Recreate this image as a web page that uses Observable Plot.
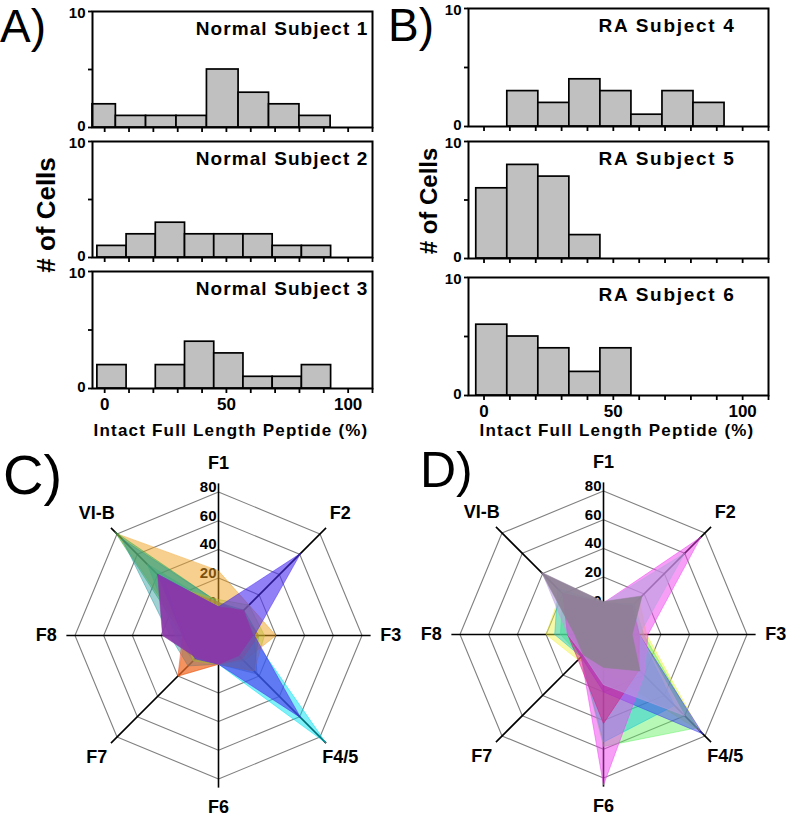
<!DOCTYPE html>
<html><head><meta charset="utf-8">
<script src="https://cdn.jsdelivr.net/npm/d3@7"></script>
<script src="https://cdn.jsdelivr.net/npm/@observablehq/plot@0.6"></script>
<style>
body{margin:0;background:#fff;}
#root{position:relative;width:786px;height:819px;overflow:hidden;background:#fff;font-family:"Liberation Sans",Arial,sans-serif;}
#root svg{position:absolute;}
</style></head><body><div id="root"></div>
<script>
// ---------- Histogram data (A, B) ----------
const subjectTitles = ["Normal Subject 1","Normal Subject 2","Normal Subject 3","RA Subject 4","RA Subject 5","RA Subject 6"];
const binEdgesN1 = [-5, 4.6, 17, 29.5, 42, 55, 67.5, 80, 92.8];
const binEdges = [-3, 9, 21, 33, 45, 57, 69, 81, 93];
const countsN1 = [2, 1, 1, 1, 5, 3, 2, 1];
const countsN2 = [1, 2, 3, 2, 2, 2, 1, 1];
const countsN3 = [2, 0, 2, 4, 3, 1, 1, 2];
const countsRA4 = [0, 3, 2, 4, 3, 1, 3, 2];
const countsRA5 = [6, 8, 7, 2, 0, 0, 0, 0];
const countsRA6 = [6, 5, 4, 2, 4, 0, 0, 0];
const yTicks = [0, 5, 10];
const yTickLow = 0, yTickHigh = 10;
const xTicks = [0, 10, 20, 30, 40, 50, 60, 70, 80, 90, 100, 110];
const xTickLabels = [0, 50, 100];
const yTitle = "# of Cells";
const xTitle = "Intact Full Length Peptide (%)";
const panelLetters = ["A)", "B)", "C)", "D)"];

// ---------- Radar data (C, D) ----------
const radarAxes = ["F1", "F2", "F3", "F4/5", "F6", "F7", "F8", "VI-B"];
const ringValues = [0, 20, 40, 60, 80];
// Panel C (normal subjects), values per axis in radarAxes order
const cCyan   = [0, 3, 3, 86, 0, 5, 10, 50];
const cOrange = [25, 10, 20, 5, 0, 20, 3, 80];
const cGreen  = [3, 5, 8, 15, 0, 3, 5, 82];
const cTeal   = [3, 3, 5, 18, 0, 10, 14, 75];
const cRed    = [3, 3, 8, 3, 0, 20, 5, 30];
const cOlive  = [5, 10, 12, 15, 0, 5, 3, 30];
const cBlue   = [0, 61, 5, 61, 0, 3, 5, 40];
const cPurple = [0, 5, 4, 0, 0, 2, 19, 40];
// Panel D (RA subjects)
const dYellow   = [2, 15, 10, 75, 5, 5, 20, 22];
const dGreen    = [2, 10, 8, 72, 58, 2, 10, 20];
const dCyan     = [2, 10, 5, 50, 55, 2, 14, 25];
const dBlue     = [2, 8, 5, 78, 20, 2, 5, 20];
const dMagenta  = [2, 76, 11, 20, 85, 2, 5, 20];
const dCrimson  = [2, 8, 5, 15, 42, 5, 5, 20];
const dLavender = [2, 60, 5, 60, 15, 0, 5, 40];
const dMauve    = [3, 18, 0, 16, 3, 0, 0, 41];

const FONT = "Liberation Sans, Arial, sans-serif";
const root = document.getElementById("root");

// ---------- overlay text ----------
const ov = d3.select(root).append("svg").attr("width", 786).attr("height", 819)
  .style("left", "0px").style("top", "0px").attr("font-family", FONT);
const letterPos = [[0, 42, 46], [388, 41, 46], [3, 494, 56], [420, 487, 50]];
panelLetters.forEach((t, i) => ov.append("text").attr("x", letterPos[i][0]).attr("y", letterPos[i][1])
  .attr("font-size", letterPos[i][2]).text(t));
[[55, 215, 26], [437, 201, 24]].forEach(([x, y, s]) => ov.append("text")
  .attr("transform", `translate(${x},${y}) rotate(-90)`).attr("text-anchor", "middle")
  .attr("font-size", s).attr("font-weight", "bold").text(yTitle));
[[231, 436], [617, 436]].forEach(([x, y]) => ov.append("text").attr("x", x).attr("y", y)
  .attr("text-anchor", "middle").attr("font-size", 17).attr("font-weight", "bold")
  .attr("letter-spacing", "1.2px").text(xTitle));

// ---------- histograms ----------
function hist(counts, edges, title, o) {
  const data = counts.map((c, i) => ({x1: edges[i], x2: edges[i + 1], n: c})).filter(d => d.n > 0);
  const mt = 14, mb = 30;
  const svg = Plot.plot({
    width: o.width, height: o.frameH + mt + mb,
    marginLeft: o.ml, marginRight: o.mr, marginTop: mt, marginBottom: mb,
    x: {domain: o.xDomain}, y: {domain: [0, 10]},
    style: {background: "transparent", overflow: "visible", fontFamily: FONT, fontWeight: "bold", color: "#000"},
    marks: [
      Plot.rect(data, {x1: "x1", x2: "x2", y1: 0, y2: "n", fill: "#c0c0c0", stroke: "#000", strokeWidth: 1.7}),
      Plot.frame({stroke: "#000", strokeWidth: 2}),
      Plot.axisY({ticks: yTicks, tickSize: 4, label: null, strokeWidth: 1.8, tickFormat: () => ""}),
      Plot.text([yTickLow], {y: d => d, text: d => String(d), frameAnchor: "left", textAnchor: "end",
        dx: -7, dy: -1.5, fontSize: 15, fontWeight: "bold"}),
      Plot.text([yTickHigh], {y: d => d, text: d => String(d), frameAnchor: "left", textAnchor: "end",
        dx: -7, dy: 1.5, fontSize: 15, fontWeight: "bold"}),
      Plot.axisX({ticks: xTicks, tickSize: 5, tickPadding: 4, label: null, strokeWidth: 1.8,
        tickFormat: d => (o.labels && xTickLabels.includes(d)) ? String(d) : "", fontSize: 17, fontWeight: "bold"}),
      Plot.text([title], {frameAnchor: "top-right", text: d => d, textAnchor: "end", lineAnchor: "bottom",
        dx: o.titleDx, dy: 23.5, fontSize: 19, fontWeight: "bold"})
    ]
  });
  d3.select(svg).selectAll("text").filter(function () { return this.textContent === title; })
    .attr("letter-spacing", o.ls + "px");
  svg.style.left = o.left + "px";
  svg.style.top = (o.frameTop - mt) + "px";
  root.appendChild(svg);
}
const A = {left: 0, width: 390, ml: 92, mr: 18, xDomain: [-5, 110], titleDx: -4, ls: 1.1};
const B = {left: 390, width: 396, ml: 78, mr: 18, xDomain: [-6, 110], titleDx: -33, ls: 1.7};
hist(countsN1, binEdgesN1, subjectTitles[0], {...A, frameTop: 11, frameH: 116, labels: false});
hist(countsN2, binEdges, subjectTitles[1], {...A, frameTop: 141, frameH: 116, labels: false});
hist(countsN3, binEdges, subjectTitles[2], {...A, frameTop: 271, frameH: 117, labels: true});
hist(countsRA4, binEdges, subjectTitles[3], {...B, frameTop: 8, frameH: 118, labels: false});
hist(countsRA5, binEdges, subjectTitles[4], {...B, frameTop: 141, frameH: 117, labels: false});
hist(countsRA6, binEdges, subjectTitles[5], {...B, frameTop: 277, frameH: 118, labels: true});

// ---------- radar charts ----------
const rad = d3.scaleLinear().domain([-20, 80]).range([0, 5]);
const ang = i => i * Math.PI / 4;
function radar(series, cx, cy) {
  const size = 390, half = 6.794;
  const pt = (v, i) => ({x: rad(v) * Math.sin(ang(i)), y: rad(v) * Math.cos(ang(i))});
  const rings = ringValues.flatMap(v => radarAxes.map((a, i) => ({ring: v, ...pt(v, i)})));
  const spokes = radarAxes.map((a, i) => { const e = pt(86, i); return {x2: e.x, y2: e.y}; });
  const labelR = 6.0;
  const marks = [
    Plot.line(rings, {x: "x", y: "y", z: "ring", curve: "linear-closed", stroke: "#808080", strokeWidth: 1.1}),
    Plot.link(spokes, {x1: 0, y1: 0, x2: "x2", y2: "y2", stroke: "#000", strokeWidth: 1.6}),
    Plot.text(ringValues, {x: 0, y: v => rad(v), text: d => String(d), textAnchor: "end", dx: -2, dy: -5,
      fontSize: 15, fontWeight: "bold"})
  ];
  series.forEach(s => {
    const pts = s.values.map((v, i) => pt(v, i));
    marks.push(Plot.line(pts, {x: "x", y: "y", curve: "linear-closed", fill: s.color, fillOpacity: s.op,
      stroke: s.color, strokeOpacity: 0.6, strokeWidth: 0.8}));
  });
  marks.push(Plot.text(radarAxes, {x: (d, i) => labelR * Math.sin(ang(i)), y: (d, i) => labelR * Math.cos(ang(i)),
    text: d => d, fontSize: 18, fontWeight: "bold"}));
  const svg = Plot.plot({
    width: size, height: size, margin: 0,
    x: {domain: [-half, half], axis: null}, y: {domain: [-half, half], axis: null},
    style: {background: "transparent", overflow: "visible", fontFamily: FONT, fontWeight: "bold", color: "#000"},
    marks
  });
  svg.style.left = (cx - size / 2) + "px";
  svg.style.top = (cy - size / 2) + "px";
  root.appendChild(svg);
}
radar([
  {values: cCyan, color: "#00e2f0", op: 0.5},
  {values: cOrange, color: "#f0a020", op: 0.5},
  {values: cGreen, color: "#30ac48", op: 0.45},
  {values: cTeal, color: "#2a9a9e", op: 0.45},
  {values: cRed, color: "#f04a28", op: 0.45},
  {values: cOlive, color: "#b8b830", op: 0.4},
  {values: cBlue, color: "#4a2cf0", op: 0.6},
  {values: cPurple, color: "#8a38a8", op: 0.94}
], 217.7, 635);
radar([
  {values: dYellow, color: "#f0f040", op: 0.45},
  {values: dGreen, color: "#60f060", op: 0.45},
  {values: dCyan, color: "#10c8d8", op: 0.45},
  {values: dBlue, color: "#4040f0", op: 0.5},
  {values: dMagenta, color: "#f040f0", op: 0.5},
  {values: dCrimson, color: "#d01a80", op: 0.5},
  {values: dLavender, color: "#b9a0e0", op: 0.6},
  {values: dMauve, color: "#8d7f94", op: 0.9}
], 602.7, 634);
</script></body></html>
